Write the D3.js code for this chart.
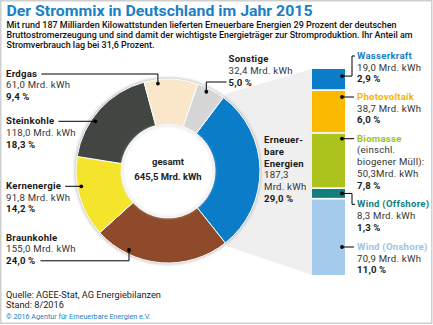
<!DOCTYPE html>
<html>
<head>
<meta charset="utf-8">
<script src="https://cdn.jsdelivr.net/npm/d3@7"></script>
<style>
  html, body { margin: 0; padding: 0; background: #fff; }
  svg { display: block; font-family: Roboto, "DejaVu Sans", sans-serif; }
</style>
</head>
<body>
<svg id="chart"></svg>
<script>
// data
const categories = ["Erneuerbare Energien", "Braunkohle", "Kernenergie", "Steinkohle", "Erdgas", "Sonstige"];
const values = [187.3, 155.0, 91.8, 118.0, 61.0, 32.4];
const shares = [29.0, 24.0, 14.2, 18.3, 9.4, 5.0];

const reCategories = ["Wasserkraft", "Photovoltaik", "Biomasse", "Wind (Offshore)", "Wind (Onshore)"];
const reValues = [19.0, 38.7, 50.3, 8.3, 70.9];
const reShares = [2.9, 6.0, 7.8, 1.3, 11.0];

const title = "Der Strommix in Deutschland im Jahr 2015";
const intro = [
  "Mit rund 187 Milliarden Kilowattstunden lieferten Erneuerbare Energien 29 Prozent der deutschen",
  "Bruttostromerzeugung und sind  damit der wichtigste Energieträger zur Stromproduktion. Ihr Anteil am",
  "Stromverbrauch lag bei 31,6 Prozent."
];
const footer = ["Quelle: AGEE-Stat, AG Energiebilanzen", "Stand: 8/2016"];
const copyright = "© 2016 Agentur für Erneuerbare Energien e.V.";

const W = 433, H = 325;
const loc = d3.formatLocale({decimal: ",", thousands: ".", grouping: [3], currency: ["", "€"]});
const f1 = loc.format(".1f");
const pct = v => f1(v) + "\u2009%";
const kwh = v => f1(v) + " Mrd. kWh";

const color = d3.scaleOrdinal().domain(categories)
  .range(["#0b7dc8", "#8e4a2b", "#f4e52c", "#414643", "#fae6c9", "#d6d6d6"]);
const reColor = d3.scaleOrdinal().domain(reCategories)
  .range(["#0b7dc8", "#fbb900", "#abc31a", "#127d7d", "#a4cbeb"]);
const reTextColor = d3.scaleOrdinal().domain(reCategories)
  .range(["#1a7fc6", "#f6b400", "#9cc12a", "#137f7f", "#9cc3e6"]);

const svg = d3.select("#chart").attr("width", W).attr("height", H);

const defs = svg.append("defs");
defs.append("filter").attr("id", "blur").attr("x", "-20%").attr("y", "-20%")
  .attr("width", "140%").attr("height", "140%")
  .append("feGaussianBlur").attr("stdDeviation", 1.6);

// frame
svg.append("rect").attr("x", 0.75).attr("y", 0.75).attr("width", W - 2).attr("height", H - 2.5)
  .attr("fill", "#fff").attr("stroke", "#cfcfcf").attr("stroke-width", 1.5);

// heading
svg.append("text").attr("x", 6.5).attr("y", 16)
  .attr("fill", "#1a7fc6").attr("font-weight", "bold").attr("font-size", 15.5)
  .attr("textLength", 306).attr("lengthAdjust", "spacingAndGlyphs")
  .text(title);

const introW = [390, 406, 148];
svg.append("g").selectAll("text").data(intro).join("text")
  .attr("x", 6.5).attr("y", (d, i) => 28.3 + i * 10)
  .attr("fill", "#111").attr("font-weight", 500).attr("font-size", 9.2)
  .attr("textLength", (d, i) => introW[i]).attr("lengthAdjust", "spacingAndGlyphs")
  .text(d => d);

// donut geometry
const cx = 168, cy = 171, R = 92, r0 = 47;
const a0 = 37 * Math.PI / 180;
const pie = d3.pie().sort(null).value(d => d).startAngle(a0).endAngle(a0 + 2 * Math.PI);
const arcs = pie(values);
const arc = d3.arc().innerRadius(r0).outerRadius(R);
const polar = (a, rr) => [cx + rr * Math.sin(a), cy - rr * Math.cos(a)];

// renewable column
const barX = 312, barW = 33, barTop = 69, barBot = 275, gap = 1.7;
const yS = d3.scaleLinear().domain([0, d3.sum(reValues)])
  .range([0, barBot - barTop - gap * (reValues.length - 1)]);
let acc = 0;
const segs = reValues.map((v, i) => {
  const y0 = barTop + yS(acc) + gap * i;
  acc += v;
  const y1 = barTop + yS(acc) + gap * i;
  return {name: reCategories[i], value: v, share: reShares[i], y0, y1};
});

// grey wedge from renewable slice to column
const er = arcs[0];
const pA = polar(er.startAngle, R + 5), pB = polar(er.endAngle, R + 5);
svg.append("path")
  .attr("d", d3.line()([pA, [barX, barTop], [barX, barBot], pB, [cx, cy]]) + "Z")
  .attr("fill", "#efefef");

// donut shadow
svg.append("circle").attr("cx", cx).attr("cy", cy).attr("r", R + 1.2)
  .attr("fill", "#bdbdbd").attr("filter", "url(#blur)");

svg.append("g").attr("transform", `translate(${cx},${cy})`)
  .selectAll("path").data(arcs).join("path")
  .attr("d", arc)
  .attr("fill", (d, i) => color(categories[i]))
  .attr("stroke", "#fff").attr("stroke-width", 1);

// hole
svg.append("circle").attr("cx", cx).attr("cy", cy).attr("r", r0)
  .attr("fill", "#fff");
svg.append("circle").attr("cx", cx).attr("cy", cy).attr("r", r0 - 1.2)
  .attr("fill", "none").attr("stroke", "#dedede").attr("stroke-width", 1.4)
  .attr("filter", "url(#blur)");

svg.append("text").attr("x", cx).attr("y", 165).attr("text-anchor", "middle")
  .attr("font-weight", "bold").attr("font-size", 9.5).attr("fill", "#222").text("gesamt");
svg.append("text").attr("x", cx).attr("y", 179.5).attr("text-anchor", "middle")
  .attr("font-weight", "bold").attr("font-size", 9.5).attr("fill", "#222")
  .text(kwh(d3.sum(values)));

// column segments
svg.append("g").selectAll("rect").data(segs).join("rect")
  .attr("x", barX).attr("y", d => d.y0).attr("width", barW).attr("height", d => d.y1 - d.y0)
  .attr("fill", d => reColor(d.name));

// label helpers
const fs = 9.6, lh = 11.7;
function block(x, y, lines, anchor) {
  const g = svg.append("g");
  lines.forEach((l, i) => {
    g.append("text").attr("x", x).attr("y", y + i * lh)
      .attr("text-anchor", anchor || "start")
      .attr("font-size", fs).attr("letter-spacing", 0.25)
      .attr("font-weight", l.b ? "bold" : "normal")
      .attr("fill", l.c || (l.b ? "#1a1a1a" : "#333"))
      .text(l.t);
  });
  return g;
}
const dot = (p) => svg.append("circle").attr("cx", p[0]).attr("cy", p[1]).attr("r", 1.9).attr("fill", "#000");
const lead = (pts) => svg.append("path").attr("d", d3.line()(pts))
  .attr("fill", "none").attr("stroke", "#000").attr("stroke-width", 1);
const tw = (g, i) => g.selectAll("text").nodes()[i].getComputedTextLength();

const rd = R - 4;
const inSlice = (i, t) => {
  const a = arcs[i].startAngle + t * (arcs[i].endAngle - arcs[i].startAngle);
  return polar(a, rd);
};
const onRing = (y) => [cx - Math.sqrt(rd * rd - (y - cy) * (y - cy)), y];

// left side labels
const std = i => [{t: categories[i], b: true}, {t: kwh(values[i])}, {t: pct(shares[i]), b: true}];

// Erdgas
let g = block(6, 76.7, std(4));
let p = inSlice(4, 0.25);
lead([[6 + tw(g, 0) + 4, 74], [p[0], 74], p]); dot(p);

// Steinkohle
g = block(6, 124.3, std(3));
p = onRing(121.3);
lead([[6 + tw(g, 0) + 4, p[1]], p]); dot(p);

// Kernenergie
g = block(6, 189, std(2));
p = onRing(186.3);
lead([[6 + tw(g, 0) + 4, p[1]], p]); dot(p);

// Braunkohle
g = block(6, 240.7, std(1));
p = inSlice(1, 0.75);
lead([[6 + tw(g, 2) + 5, 260.8], [p[0], 260.8], p]); dot(p);

// Sonstige
g = block(228.5, 62.3, std(5));
p = inSlice(5, 0.38);
lead([[226.5, 82], [p[0], 82], p]); dot(p);

// Erneuerbare
block(264, 143.3, [{t: "Erneuer-", b: true}, {t: "bare", b: true}, {t: "Energien", b: true},
  {t: f1(values[0])}, {t: "Mrd. kWh"}, {t: pct(shares[0]), b: true}]);

// right side labels
const titleY = [59, 100, 141.7, 207.3, 250];
const elbowX = 352, labX = 357;
segs.forEach((s, i) => {
  const lines = [{t: s.name, b: true, c: reTextColor(s.name)}];
  if (s.name === "Biomasse") {
    lines.push({t: "(einschl."}, {t: "biogener Müll):"}, {t: f1(s.value) + "Mrd. kWh"});
  } else {
    lines.push({t: kwh(s.value)});
  }
  lines.push({t: pct(s.share), b: true});
  block(labX, titleY[i], lines);
  const ly = titleY[i] - 3;
  const dx = barX + barW - 3;
  if (ly > s.y0 + 3 && ly < s.y1 - 3) {
    lead([[dx, ly], [elbowX + 2, ly]]); dot([dx, ly]);
  } else {
    const my = (s.y0 + s.y1) / 2 - (i === 0 ? 3 : 0);
    lead([[dx, my], [elbowX, my], [elbowX, ly], [elbowX + 3, ly]]); dot([dx, my]);
  }
});

// footer
svg.append("g").selectAll("text").data(footer).join("text")
  .attr("x", 6).attr("y", (d, i) => 298.3 + i * 10)
  .attr("font-size", 9.2).attr("fill", "#222").text(d => d);
svg.append("text").attr("x", 6).attr("y", 318.5)
  .attr("font-size", 7.2).attr("fill", "#1a7fc6").text(copyright);
</script>
</body>
</html>
